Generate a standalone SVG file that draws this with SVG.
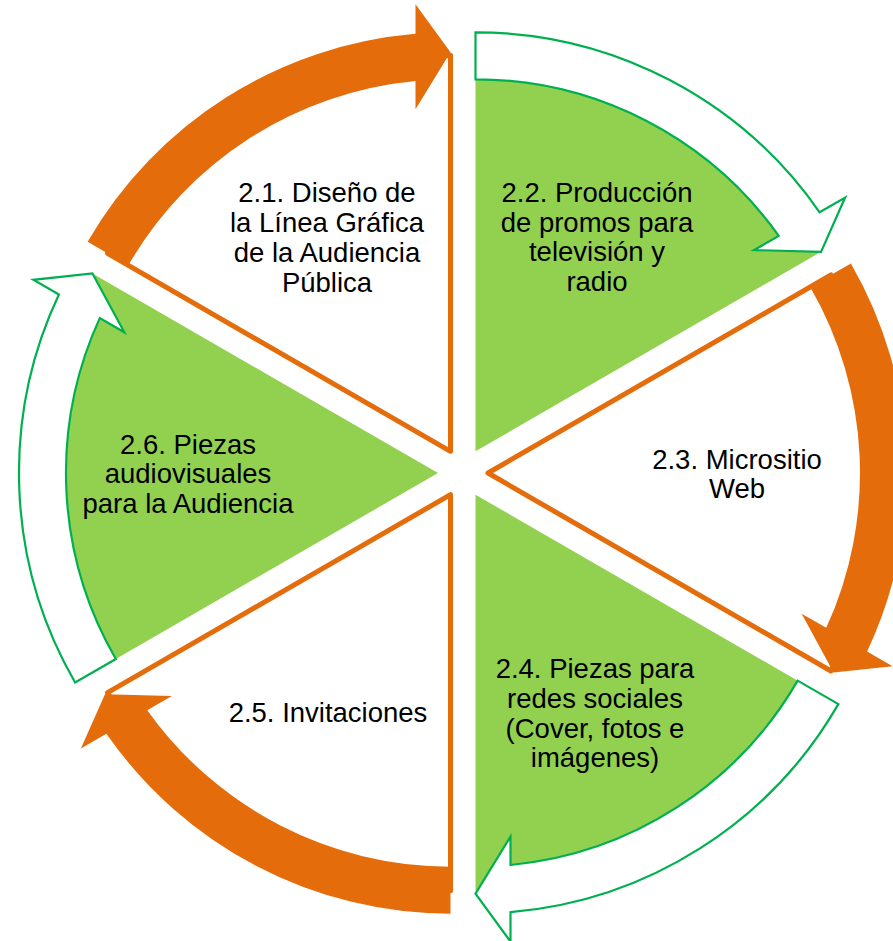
<svg xmlns="http://www.w3.org/2000/svg" xmlns:xlink="http://www.w3.org/1999/xlink" width="893" height="941" viewBox="0 0 893 941">
<style>
.pieW{fill:#FFFFFF;stroke:#E46C0A;stroke-width:5;stroke-linejoin:round}
.arrO{fill:#E46C0A;stroke:none}
.pieG{fill:#92D050;stroke:none}
.arrG{fill:#FFFFFF;stroke:#00B050;stroke-width:2.2;stroke-linejoin:miter}
.t{font-family:"Liberation Sans",Arial,sans-serif;font-size:27.5px;fill:#000000;text-anchor:middle}
</style>
<defs>
<path id="pie" d="M -12.5 -21.65 L -355.45 -219.65 A 396 396 0 0 1 -12.5 -417.65 Z"/>
<path id="arr" d="M -375.37 -231.15 A 419 419 0 0 1 -47.5 -439.19 L -47.5 -468.65 L -12.5 -420.65 L -47.5 -363.65 L -47.5 -392.0 A 372 372 0 0 0 -334.66 -207.65 Z"/>
</defs>
<rect x="0" y="0" width="893" height="941" fill="#FFFFFF"/>
<g id="connectors"/>
<g id="s21">
<use xlink:href="#pie" href="#pie" class="pieW" transform="translate(463 473) rotate(0)"/>
<use xlink:href="#arr" href="#arr" class="arrO" transform="translate(463 473) rotate(0)"/>
<text class="t" x="327" y="202">2.1. Diseño de</text>
<text class="t" x="327" y="232">la Línea Gráfica</text>
<text class="t" x="327" y="262">de la Audiencia</text>
<text class="t" x="327" y="292">Pública</text>
</g>
<g id="s22">
<use xlink:href="#pie" href="#pie" class="pieG" transform="translate(463 473) rotate(60)"/>
<use xlink:href="#arr" href="#arr" class="arrG" transform="translate(463 473) rotate(60)"/>
<text class="t" x="597" y="202">2.2. Producción</text>
<text class="t" x="597" y="232">de promos para</text>
<text class="t" x="597" y="261">televisión y</text>
<text class="t" x="597" y="291">radio</text>
</g>
<g id="s23">
<use xlink:href="#pie" href="#pie" class="pieW" transform="translate(463 473) rotate(120)"/>
<use xlink:href="#arr" href="#arr" class="arrO" transform="translate(463 473) rotate(120)"/>
<text class="t" x="737" y="469">2.3. Micrositio</text>
<text class="t" x="737" y="498">Web</text>
</g>
<g id="s24">
<use xlink:href="#pie" href="#pie" class="pieG" transform="translate(463 473) rotate(180)"/>
<use xlink:href="#arr" href="#arr" class="arrG" transform="translate(463 473) rotate(180)"/>
<text class="t" x="595" y="678">2.4. Piezas para</text>
<text class="t" x="595" y="708">redes sociales</text>
<text class="t" x="595" y="738">(Cover, fotos e</text>
<text class="t" x="595" y="767">imágenes)</text>
</g>
<g id="s25">
<use xlink:href="#pie" href="#pie" class="pieW" transform="translate(463 473) rotate(240)"/>
<use xlink:href="#arr" href="#arr" class="arrO" transform="translate(463 473) rotate(240)"/>
<text class="t" x="328" y="722">2.5. Invitaciones</text>
</g>
<g id="s26">
<use xlink:href="#pie" href="#pie" class="pieG" transform="translate(463 473) rotate(300)"/>
<use xlink:href="#arr" href="#arr" class="arrG" transform="translate(463 473) rotate(300)"/>
<text class="t" x="188" y="454">2.6. Piezas</text>
<text class="t" x="188" y="483">audiovisuales</text>
<text class="t" x="188" y="513">para la Audiencia</text>
</g>
</svg>
